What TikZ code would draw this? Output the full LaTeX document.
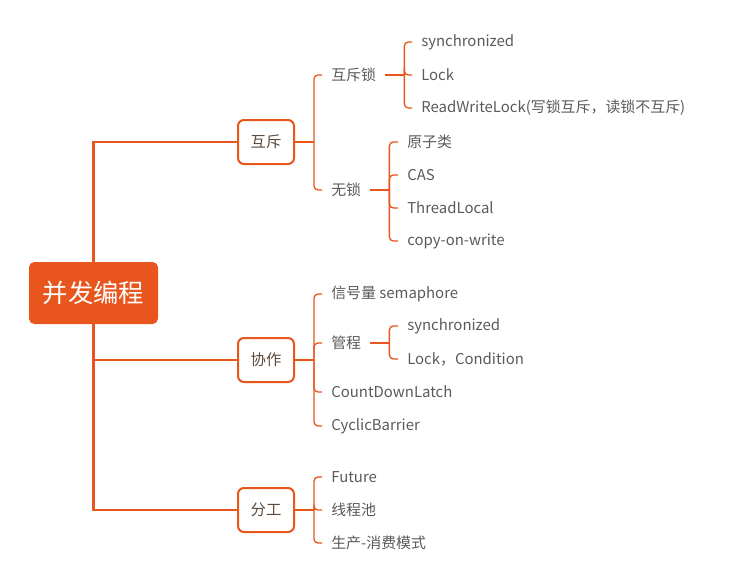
\documentclass[tikz,border=0pt]{standalone}
\usepackage{fontspec}
\setmainfont{Noto Sans CJK SC}
\usetikzlibrary{backgrounds}
\definecolor{mmorange}{HTML}{E8561E}
\definecolor{mmtext}{HTML}{5A5A5A}
\definecolor{mmbox}{HTML}{5E4B3C}

\begin{document}
\begin{tikzpicture}[x=0.75pt,y=-0.75pt,
	root/.style={fill=mmorange,rounded corners=4pt,minimum width=96.75pt,minimum height=46.5pt,text=white,font=\fontsize{19}{20}\selectfont},
	topic/.style={draw=mmorange,line width=1.5pt,fill=white,rounded corners=4.5pt,minimum width=42pt,minimum height=33pt,text=mmbox,font=\fontsize{11.5}{12}\selectfont},
	leaf/.style={anchor=west,inner xsep=6.75pt,inner ysep=2pt,text=mmtext,font=\fontsize{11.2}{12}\selectfont},
	trunk/.style={draw=mmorange,line width=1.9pt},
	twig/.style={draw=mmorange,line width=1pt,rounded corners=3pt}]
					\useasboundingbox (0,0) rectangle (729,586);
					\node[root] (bf) at (93.5,293) {并发编程};
					\node[topic] (hc) at (266,142) {互斥};
					\node[topic] (xz) at (266,360) {协作};
					\node[topic] (fg) at (266,510) {分工};
					\begin{scope}[on background layer]
						\draw[trunk] (bf.center) |- (hc.west);
						\draw[trunk] (bf.center) |- (xz.west);
						\draw[trunk] (bf.center) |- (fg.west);
					\end{scope}
					
					% 互斥
					\node[leaf] (hcs) at (322,75) {互斥锁};
					\node[leaf] (wus) at (322,190) {无锁};
					\draw[twig] (hc.east) -- ++(19,0) coordinate (hcb);
					\draw[twig] (hcb) |- (hcs.west);
					\draw[twig] (hcb) |- (wus.west);
					
					\node[leaf] (syn) at (412,42) {synchronized};
					\node[leaf] (lck) at (412,75) {Lock};
					\node[leaf] (rwl) at (412,108) {ReadWriteLock(写锁互斥，读锁不互斥)};
					\draw[twig] (hcs.east) -- ++(19,0) coordinate (hcsb);
					\foreach \n in {syn,lck,rwl}
						\draw[twig] (hcsb) |- (\n.west);
					
					\node[leaf] (yzl) at (398,142) {原子类};
					\node[leaf] (cas) at (398,175) {CAS};
					\node[leaf] (thl) at (398,208) {ThreadLocal};
					\node[leaf] (cow) at (398,241) {copy-on-write};
					\draw[twig] (wus.east) -- ++(19,0) coordinate (wusb);
					\foreach \n in {yzl,cas,thl,cow}
						\draw[twig] (wusb) |- (\n.west);
					
					% 协作
					\node[leaf] (xhl) at (322,294) {信号量 semaphore};
					\node[leaf] (gc) at (322,343) {管程};
					\node[leaf] (cdl) at (322,392) {CountDownLatch};
					\node[leaf] (cyb) at (322,426) {CyclicBarrier};
					\draw[twig] (xz.east) -- ++(19,0) coordinate (xzb);
					\foreach \n in {xhl,gc,cdl,cyb}
						\draw[twig] (xzb) |- (\n.west);
					
					\node[leaf] (gcs) at (398,326) {synchronized};
					\node[leaf] (gcl) at (398,359) {Lock，Condition};
					\draw[twig] (gc.east) -- ++(19,0) coordinate (gcb);
					\foreach \n in {gcs,gcl}
						\draw[twig] (gcb) |- (\n.west);
					
					% 分工
					\node[leaf] (ftr) at (322,477) {Future};
					\node[leaf] (xcc) at (322,510) {线程池};
					\node[leaf] (scx) at (322,543) {生产-消费模式};
					\draw[twig] (fg.east) -- ++(19,0) coordinate (fgb);
					\foreach \n in {ftr,xcc,scx}
						\draw[twig] (fgb) |- (\n.west);
\end{tikzpicture}
\end{document}
